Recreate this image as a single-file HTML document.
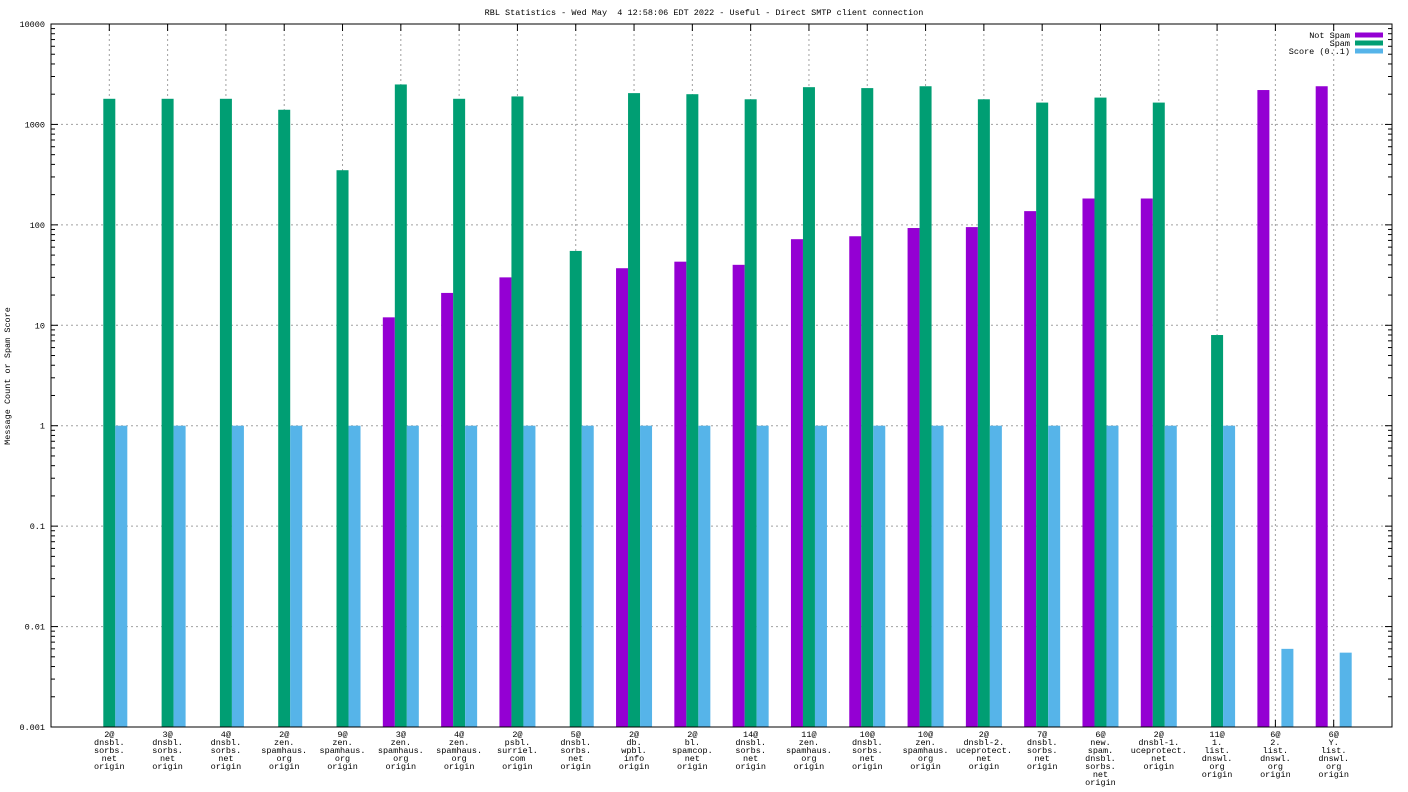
<!DOCTYPE html>
<html><head><meta charset="utf-8"><style>
html,body{margin:0;padding:0;background:#fff;}
svg{display:block;font-family:"Liberation Mono",monospace;}
</style></head><body>
<svg id="chart" width="1408" height="792"></svg>
<script>
const categories=[
["2@","dnsbl.","sorbs.","net","origin"],["3@","dnsbl.","sorbs.","net","origin"],["4@","dnsbl.","sorbs.","net","origin"],
["2@","zen.","spamhaus.","org","origin"],["9@","zen.","spamhaus.","org","origin"],["3@","zen.","spamhaus.","org","origin"],
["4@","zen.","spamhaus.","org","origin"],["2@","psbl.","surriel.","com","origin"],["5@","dnsbl.","sorbs.","net","origin"],
["2@","db.","wpbl.","info","origin"],["2@","bl.","spamcop.","net","origin"],["14@","dnsbl.","sorbs.","net","origin"],
["11@","zen.","spamhaus.","org","origin"],["10@","dnsbl.","sorbs.","net","origin"],["10@","zen.","spamhaus.","org","origin"],
["2@","dnsbl-2.","uceprotect.","net","origin"],["7@","dnsbl.","sorbs.","net","origin"],["6@","new.","spam.","dnsbl.","sorbs.","net","origin"],
["2@","dnsbl-1.","uceprotect.","net","origin"],["11@","1.","list.","dnswl.","org","origin"],["6@","2.","list.","dnswl.","org","origin"],
["6@","Y.","list.","dnswl.","org","origin"]];
const notSpam=[0,0,0,0,0,12,21,30,0,37,43,40,72,77,93,95,137,183,183,0,2200,2400];
const spam=[1800,1800,1800,1400,350,2500,1800,1900,55,2050,2000,1780,2350,2300,2400,1780,1650,1850,1650,8,0,0];
const score=[1,1,1,1,1,1,1,1,1,1,1,1,1,1,1,1,1,1,1,1,0.006,0.0055];
const yTicks=[0.001,0.01,0.1,1,10,100,1000,10000];
const yTickLabels=["0.001","0.01","0.1","1","10","100","1000","10000"];

const NS="http://www.w3.org/2000/svg";
const svg=document.getElementById('chart');
const L=51,R=1392,T=24,B=727;
const x=i=>L+(i+1)*(R-L)/(categories.length+1);
const y=v=>B-(Math.log10(v)+3)*(B-T)/7;
function el(t,a,p){const e=document.createElementNS(NS,t);for(const k in a)e.setAttribute(k,a[k]);(p||svg).appendChild(e);return e;}

const title=el('text',{x:704,y:15,'text-anchor':'middle','font-size':'8.5',style:'white-space:pre'});
title.textContent="RBL Statistics - Wed May  4 12:58:06 EDT 2022 - Useful - Direct SMTP client connection";



const yl=el('text',{x:0,y:0,transform:'translate(10,376) rotate(-90)','text-anchor':'middle','font-size':'8.5'});
yl.textContent="Message Count or Spam Score";



yTicks.forEach((v,k)=>{
  const yy=y(v);
  if(k>0&&k<yTicks.length-1){const g=el('line',{x1:L,x2:R,y1:yy,y2:yy,stroke:'#a0a0a0','stroke-dasharray':'2,3'});
  
  }
  const t=el('text',{x:45,y:yy+3,'text-anchor':'end','font-size':'8.5'});
  t.textContent=yTickLabels[k];
  
  
  el('line',{x1:L,x2:L+7,y1:yy,y2:yy,stroke:'#000'});
  el('line',{x1:R-7,x2:R,y1:yy,y2:yy,stroke:'#000'});
  if(k<yTicks.length-1){for(let m=2;m<10;m++){const my=y(v*m);
    el('line',{x1:L,x2:L+4,y1:my,y2:my,stroke:'#000'});el('line',{x1:R-4,x2:R,y1:my,y2:my,stroke:'#000'});}}
});
categories.forEach((c,i)=>{
  const xx=x(i);
  const g=el('line',{x1:xx,x2:xx,y1:T,y2:B,stroke:'#a0a0a0','stroke-dasharray':'2,3'});
  
  
  el('line',{x1:xx,x2:xx,y1:B-7,y2:B,stroke:'#000'});
  el('line',{x1:xx,x2:xx,y1:T,y2:T+7,stroke:'#000'});
  const t=el('text',{x:xx,y:B+10,'text-anchor':'middle','font-size':'8.5'});
  
  
  c.forEach((line,j)=>{const s=el('tspan',{x:xx,dy:j?8:0},t);s.textContent=line;});
});
const bw=12;
function bars(arr,off,color,name){
  arr.forEach((v,i)=>{ if(v<=0)return;
    const r=el('rect',{x:x(i)+off,y:y(v),width:bw,height:B-y(v),fill:color});
    
    
  });
}
bars(notSpam,-18,'#9400d3','bar-not-spam');
bars(spam,-6,'#009e73','bar-spam');
bars(score,6,'#56b4e9','bar-score');
const frame=el('rect',{x:L,y:T,width:R-L,height:B-T,fill:'none',stroke:'#000'});


[["Not Spam",'#9400d3'],["Spam",'#009e73'],["Score (0..1)",'#56b4e9']].forEach((e,k)=>{
  const yy=35+k*8;
  const t=el('text',{x:1350,y:yy+3,'text-anchor':'end','font-size':'8.5'});
  t.textContent=e[0];
  
  
  const r=el('rect',{x:1355,y:yy-2.5,width:28,height:5,fill:e[1]});
  
  
});
</script>
</body></html>
